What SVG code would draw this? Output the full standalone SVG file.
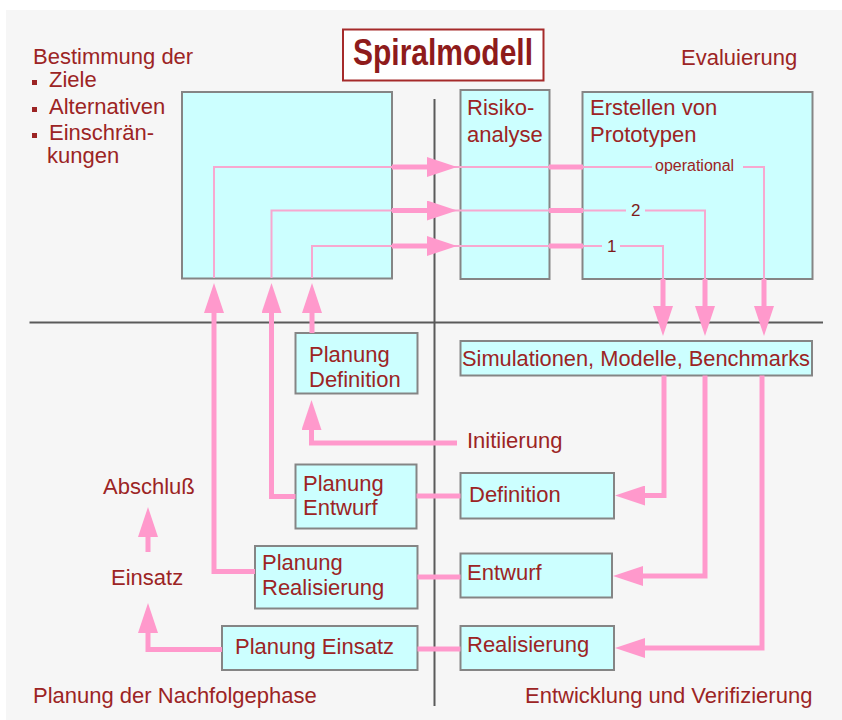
<svg xmlns="http://www.w3.org/2000/svg" width="842" height="720" viewBox="0 0 842 720">
  <defs>
    <style>
      .txt { font-family: "Liberation Sans", Arial, sans-serif; font-size: 22px; fill: #9c2424; }
      .small { font-size: 16px; }
      .num { font-size: 17px; fill: #7e1a1a; }
      .box { fill: #ccffff; stroke: #858585; stroke-width: 2; }
      .divider { stroke: #5a5a5a; stroke-width: 2; fill: none; }
      .thick { stroke: #ff99cc; stroke-width: 5; fill: none; }
      .thin { stroke: #f7a8d0; stroke-width: 2; fill: none; }
      .arrow { marker-end: url(#head); }
    </style>
    <marker id="head" viewBox="0 0 30 20" refX="0" refY="10" markerWidth="30" markerHeight="20" markerUnits="userSpaceOnUse" orient="auto">
      <path d="M0,0 L30,10 L0,20 Z" fill="#ff99cc"/>
    </marker>
  </defs>

  <!-- page background -->
  <rect x="0" y="0" width="842" height="720" fill="#ffffff"/>
  <rect x="6" y="10" width="836" height="710" fill="#f6f6f6"/>

  <!-- quadrant dividers -->
  <g id="dividers">
    <line class="divider" x1="434.5" y1="99" x2="434.5" y2="706"/>
    <line class="divider" x1="29.5" y1="322.5" x2="823" y2="322.5"/>
  </g>

  <!-- title -->
  <g id="title">
    <rect x="343" y="29.5" width="200.5" height="51" fill="#ffffff" stroke="#a52a2a" stroke-width="2"/>
    <text x="353" y="65" font-family="Liberation Sans, Arial, sans-serif" font-size="36" font-weight="bold" fill="#8e1b1b" textLength="180" lengthAdjust="spacingAndGlyphs">Spiralmodell</text>
  </g>

  <!-- quadrant captions -->
  <g id="caption-goals">
    <text class="txt" x="33" y="64">Bestimmung der</text>
    <rect x="32" y="80" width="5" height="5" fill="#9c2424"/>
    <text class="txt" x="49" y="87">Ziele</text>
    <rect x="32" y="107" width="5" height="5" fill="#9c2424"/>
    <text class="txt" x="49" y="114">Alternativen</text>
    <rect x="32" y="133" width="5" height="5" fill="#9c2424"/>
    <text class="txt" x="49" y="140">Einschrän-</text>
    <text class="txt" x="47" y="163">kungen</text>
  </g>
  <g id="caption-evaluation">
    <text class="txt" x="681" y="65">Evaluierung</text>
  </g>
  <g id="caption-next-phase">
    <text class="txt" x="33" y="703">Planung der Nachfolgephase</text>
  </g>
  <g id="caption-development">
    <text class="txt" x="525" y="703">Entwicklung und Verifizierung</text>
  </g>

  <!-- top row -->
  <g id="node-goals">
    <rect class="box" x="182" y="92" width="210" height="186.5"/>
  </g>
  <g id="node-risk">
    <rect class="box" x="460.5" y="90" width="89" height="189"/>
    <text class="txt" x="467" y="115">Risiko-</text>
    <text class="txt" x="467" y="142">analyse</text>
  </g>
  <g id="node-prototypes">
    <rect class="box" x="582.5" y="92" width="230" height="187"/>
    <text class="txt" x="590" y="115">Erstellen von</text>
    <text class="txt" x="590" y="142">Prototypen</text>
  </g>

  <!-- right column -->
  <g id="node-simulation">
    <rect class="box" x="460.5" y="341" width="351.5" height="34.5"/>
    <text class="txt" x="462" y="366" textLength="348" lengthAdjust="spacingAndGlyphs">Simulationen, Modelle, Benchmarks</text>
  </g>
  <g id="node-initiation">
    <text class="txt" x="467" y="448">Initiierung</text>
  </g>
  <g id="node-definition">
    <rect class="box" x="460.5" y="473" width="153.5" height="45.5"/>
    <text class="txt" x="469" y="502">Definition</text>
  </g>
  <g id="node-design">
    <rect class="box" x="460.5" y="553.5" width="151.5" height="44"/>
    <text class="txt" x="467" y="580">Entwurf</text>
  </g>
  <g id="node-implementation">
    <rect class="box" x="460.5" y="626" width="153.5" height="44"/>
    <text class="txt" x="467" y="652">Realisierung</text>
  </g>

  <!-- planning column -->
  <g id="node-plan-definition">
    <rect class="box" x="295.5" y="333" width="122" height="60.5"/>
    <text class="txt" x="309" y="362">Planung</text>
    <text class="txt" x="309" y="387">Definition</text>
  </g>
  <g id="node-plan-design">
    <rect class="box" x="295.5" y="464.5" width="121" height="64"/>
    <text class="txt" x="303" y="491">Planung</text>
    <text class="txt" x="303" y="515">Entwurf</text>
  </g>
  <g id="node-plan-implementation">
    <rect class="box" x="255" y="546" width="162.5" height="62.5"/>
    <text class="txt" x="262" y="570">Planung</text>
    <text class="txt" x="262" y="595">Realisierung</text>
  </g>
  <g id="node-plan-deployment">
    <rect class="box" x="222" y="626" width="195.5" height="44"/>
    <text class="txt" x="235" y="654">Planung Einsatz</text>
  </g>

  <!-- left column -->
  <g id="node-closure">
    <text class="txt" x="103" y="494">Abschluß</text>
  </g>
  <g id="node-deployment">
    <text class="txt" x="111" y="585">Einsatz</text>
  </g>

  <!-- connectors -->
  <g id="connectors">
    <!-- spiral rounds through the upper quadrants -->
    <path class="thin" d="M214,278 V167 H652"/>
    <path class="thin" d="M743,167 H764 V279"/>
    <path class="thin" d="M271.5,278 V210.5 H626"/>
    <path class="thin" d="M645,210.5 H705 V279"/>
    <path class="thin" d="M312,278 V246 H602"/>
    <path class="thin" d="M620,246 H663 V279"/>
    <text class="txt small" x="655" y="171">operational</text>
    <text class="txt num" x="631" y="216">2</text>
    <text class="txt num" x="607" y="252">1</text>

    <path class="thick arrow" d="M392,167 H427"/>
    <path class="thick arrow" d="M392,210.5 H427"/>
    <path class="thick arrow" d="M392,246 H427"/>
    <path class="thick" d="M549,167 H583"/>
    <path class="thick" d="M549,210.5 H583"/>
    <path class="thick" d="M549,246 H583"/>

    <path class="thick arrow" d="M663,279 V306"/>
    <path class="thick arrow" d="M705,279 V306"/>
    <path class="thick arrow" d="M764,279 V306"/>

    <!-- planning feeds back into the goals box -->
    <path class="thick arrow" d="M255,571.5 H214 V313"/>
    <path class="thick arrow" d="M295.5,496.5 H271.5 V313"/>
    <path class="thick arrow" d="M312,333 V313"/>
    <path class="thick arrow" d="M457,443 H311.5 V430"/>

    <!-- simulation results into development steps -->
    <path class="thick arrow" d="M664,375.5 V495.5 H645"/>
    <path class="thick arrow" d="M705,375.5 V576 H643"/>
    <path class="thick arrow" d="M762,375.5 V648 H645"/>

    <!-- planning to development links -->
    <path class="thick" d="M416.5,496 H460.5"/>
    <path class="thick" d="M417.5,577 H460.5"/>
    <path class="thick" d="M417.5,649 H460.5"/>

    <!-- deployment and closure -->
    <path class="thick arrow" d="M222,649.5 H148 V633"/>
    <path class="thick arrow" d="M148,552 V537"/>
  </g>
</svg>
